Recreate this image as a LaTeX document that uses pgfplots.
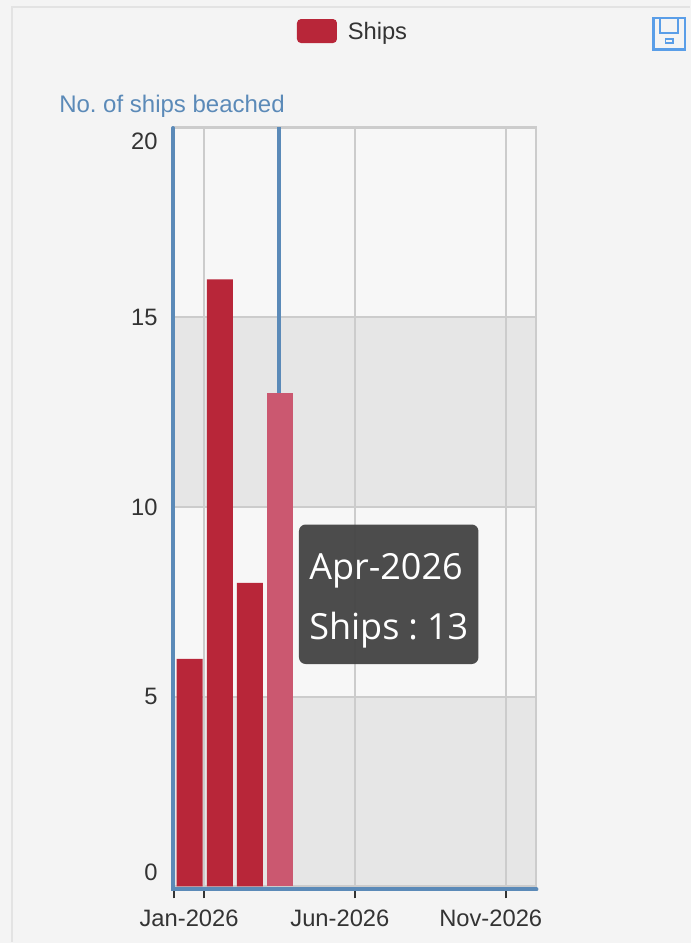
\documentclass[border=0pt]{standalone}
\usepackage{pgfplots}
\pgfplotsset{compat=1.18}
\usepackage{fontspec}
\setmainfont{Liberation Sans}
\newfontfamily\tipfont{Open Sans}
\definecolor{pagebg}{HTML}{F4F4F4}
\definecolor{framec}{HTML}{E3E3E3}
\definecolor{bandA}{HTML}{E6E6E6}
\definecolor{bandB}{HTML}{F7F7F7}
\definecolor{gridc}{HTML}{CCCCCC}
\definecolor{axisblue}{HTML}{5B8AB8}
\definecolor{shipred}{HTML}{B82639}
\definecolor{shiphi}{HTML}{CB5870}
\definecolor{txt}{HTML}{333333}
\definecolor{iconblue}{HTML}{5A9EE8}
\pgfplotsset{layers/withpage/.define layer set={pagelayer,axis background,axis grid,axis ticks,axis lines,axis tick labels,pre main,main,axis descriptions,axis foreground}{}}
\begin{document}
\begin{tikzpicture}
\begin{axis}[
  set layers=withpage,
  clip=false,
  scale only axis,
  width=271.5pt,
  height=569.25pt,
  at={(130.5pt,42.4pt)},
  anchor=south west,
  xmin=0,xmax=12,ymin=0,ymax=20,
  axis line style={draw=none},
  tick align=outside,
  tick pos=left,
  major tick length=9pt,
  xtick={0.5,5.5,10.5},
  xticklabels={Jan-2026,Jun-2026,Nov-2026},
  xtick style={draw=none},
  extra x ticks={0,1,6,11},
  extra x tick labels={},
  extra x tick style={grid=major,xtick style={draw=txt,line width=1.1pt}},
  ytick={0.37,5,10,15,19.63},
  yticklabels={0,5,10,15,20},
  ytick style={draw=none},
  extra y ticks={5,10,15},
  extra y tick labels={},
  extra y tick style={grid=major},
  grid style={gridc,line width=1.35pt},
  x tick label style={font=\fontsize{17.8pt}{20pt}\selectfont,text=txt,yshift=-4.8pt},
  y tick label style={font=\fontsize{17.8pt}{20pt}\selectfont,text=txt,xshift=0.2pt},
  ylabel={No.\ of ships beached},
  y label style={at={(axis description cs:0,1)},anchor=base,rotate=-90,xshift=-1.5pt,yshift=11.5pt,font=\fontsize{18pt}{20pt}\selectfont,text=axisblue},
]
\addplot[on layer=pagelayer,fill=pagebg,draw=none,forget plot] coordinates {(-5.768,-1.49)(17.138,-1.49)(17.138,23.36)(-5.768,23.36)};
\addplot[on layer=axis background,fill=bandB,draw=none,forget plot] coordinates {(0,0)(12,0)(12,20)(0,20)};
\addplot[on layer=axis background,fill=bandA,draw=none,forget plot] coordinates {(0,0)(12,0)(12,5)(0,5)};
\addplot[on layer=axis background,fill=bandA,draw=none,forget plot] coordinates {(0,10)(12,10)(12,15)(0,15)};
\addplot[gridc,line width=1.6pt,forget plot] coordinates {(0,20)(12,20)(12,0)(0,0)};
\addplot[axisblue,line width=3pt,forget plot] coordinates {(3.47,0)(3.47,20)};
\addplot[ybar,bar width=19.5pt,bar shift=0.4pt,draw=none,fill=shipred]
  coordinates {(0.5,6)(1.5,16)(2.5,8)};
\addplot[ybar,bar width=19.5pt,bar shift=0.4pt,draw=none,fill=shiphi,forget plot]
  coordinates {(3.5,13)};
\end{axis}
\begin{scope}[x=0.75pt,y=-0.75pt,shift={(0,707.25pt)}]
\draw[framec,line width=1.5pt] (11.5,942) -- (11.5,6.5) -- (690,6.5);
\draw[axisblue,line width=3pt,line cap=round] (173,128) -- (173,889.5) -- (536.5,889.5);
\fill[fill=black!74,fill opacity=0.94,rounded corners=5pt] (299,524.5) rectangle (478.5,664);
\node[anchor=base west,inner sep=0pt,text=white] at (309,579) {\tipfont\fontsize{27pt}{30pt}\selectfont Apr-2026};
\node[anchor=base west,inner sep=0pt,text=white] at (309,639) {\tipfont\fontsize{27pt}{30pt}\selectfont Ships\hskip 0.25em:\hskip 0.25em13};
\fill[shipred,rounded corners=3pt] (297,19) rectangle (337,43);
\node[anchor=base west,inner sep=0pt,text=txt] at (347.5,39.5) {\fontsize{17.8pt}{20pt}\selectfont Ships};
\draw[iconblue,line width=1.9pt] (653.5,18) rectangle (685,49.5);
\draw[iconblue,line width=1.5pt] (660,18) -- (660,33) -- (678,33) -- (678,18);
\draw[iconblue,line width=1.2pt] (665.5,39) rectangle (673,43);
\end{scope}
\end{tikzpicture}
\end{document}
